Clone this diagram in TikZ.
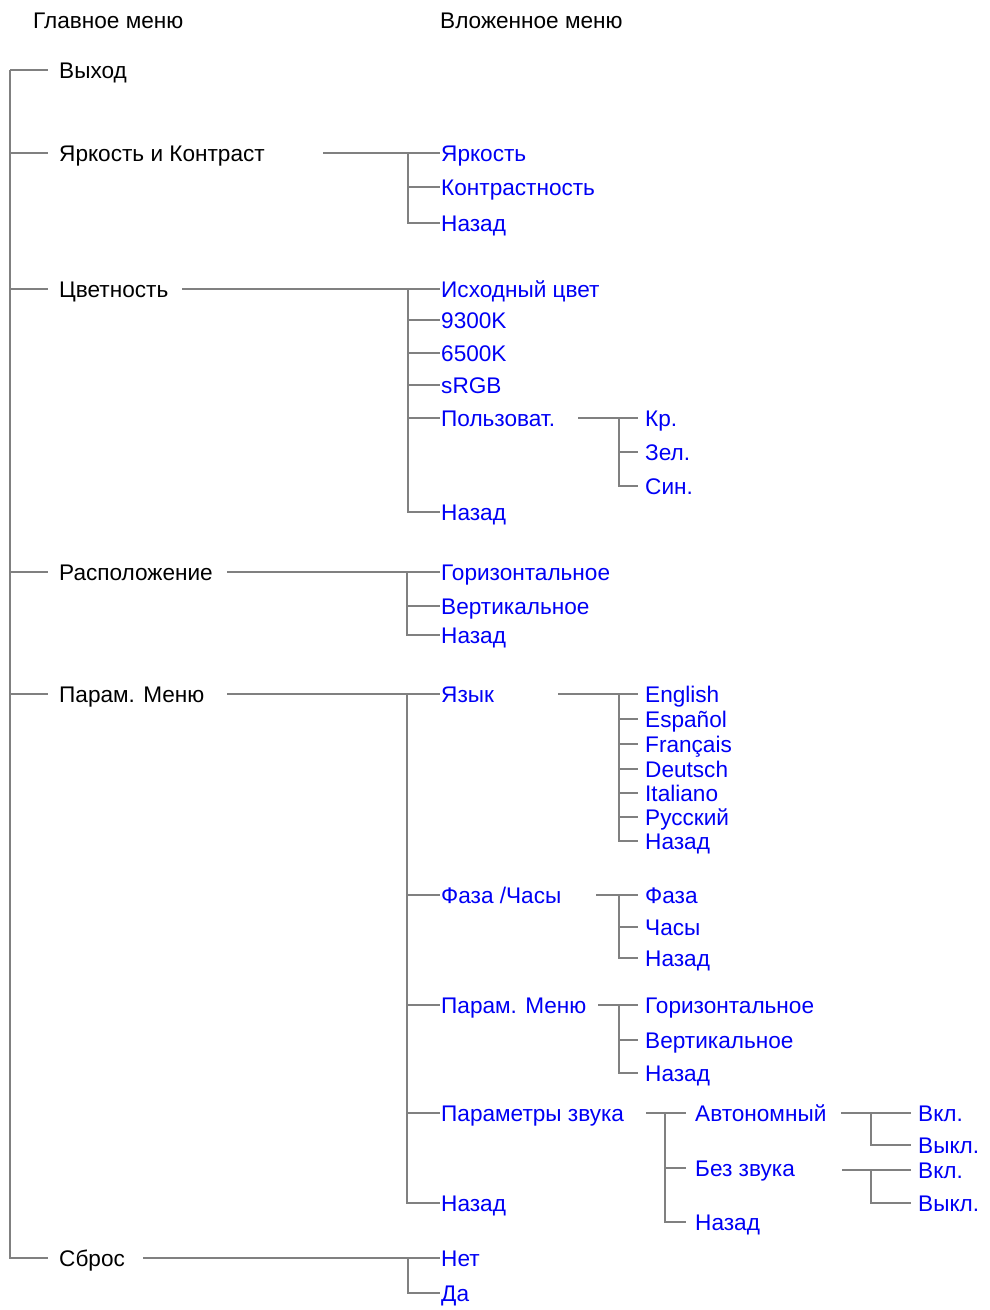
\documentclass[tikz,border=0pt]{standalone}
\usepackage{fontspec}
\setmainfont{Liberation Sans}
\definecolor{refblue}{RGB}{0,0,245}
\definecolor{lngray}{RGB}{128,128,128}
\begin{document}
\begin{tikzpicture}[x=1pt,y=-1pt,
  ln/.style={draw=lngray,line width=1.5pt},
  txt/.style={anchor=west,inner ysep=0pt,inner xsep=0pt,text height=16.3pt,text depth=0pt,
    font=\fontsize{22.6}{26}\selectfont},
  hdr/.style={txt,text=black},
  mainitem/.style={txt,text=black,inner xsep=11pt},
  subA/.style={txt,text=refblue,inner xsep=1pt},
  subB/.style={txt,text=refblue,inner xsep=7pt},
  subC/.style={txt,text=refblue,inner xsep=9pt}
]
\fill[white] (0,0) rectangle (989,1310);
\useasboundingbox (0,0) rectangle (989,1310);

% headers
\node[hdr] (h1) at (33,20) {Главное меню};
\node[hdr] (h2) at (440,20) {Вложенное меню};

% main menu
\node[mainitem] (m1) at (48,70) {Выход};
\node[mainitem] (m2) at (48,153) {Яркость и Контраст};
\node[mainitem] (m3) at (48,289) {Цветность};
\node[mainitem] (m4) at (48,572) {Расположение};
\node[mainitem] (m5) at (48,694) {Парам. Меню};
\node[mainitem] (m6) at (48,1258) {Сброс};
\coordinate (root) at (10,70);
\draw[ln] (root) -- (m1.west);
\foreach \m in {m2,m3,m4,m5,m6} \draw[ln] (root) |- (\m.west);

% Brightness / contrast
\node[subA] (a1) at (440,153) {Яркость};
\node[subA] (a2) at (440,187) {Контрастность};
\node[subA] (a3) at (440,223) {Назад};
\coordinate (s2) at (323,153);
\coordinate (b2) at (408,153);
\draw[ln] (s2) -- (a1.west);
\foreach \c in {a2,a3} \draw[ln] (b2) |- (\c.west);

% Colour
\node[subA] (c1) at (440,289) {Исходный цвет};
\node[subA] (c2) at (440,320) {9300K};
\node[subA] (c3) at (440,353) {6500K};
\node[subA] (c4) at (440,385) {sRGB};
\node[subA] (c5) at (440,418) {Пользоват.};
\node[subA] (c6) at (440,512) {Назад};
\coordinate (s3) at (182,289);
\coordinate (b3) at (408,289);
\draw[ln] (s3) -- (c1.west);
\foreach \c in {c2,c3,c4,c5,c6} \draw[ln] (b3) |- (\c.west);

\node[subB] (u1) at (638,418) {Кр.};
\node[subB] (u2) at (638,452) {Зел.};
\node[subB] (u3) at (638,486) {Син.};
\coordinate (su) at (578,418);
\coordinate (bu) at (619,418);
\draw[ln] (su) -- (u1.west);
\foreach \c in {u2,u3} \draw[ln] (bu) |- (\c.west);

% Position
\node[subA] (p1) at (440,572) {Горизонтальное};
\node[subA] (p2) at (440,606) {Вертикальное};
\node[subA] (p3) at (440,635) {Назад};
\coordinate (s4) at (227,572);
\coordinate (b4) at (407,572);
\draw[ln] (s4) -- (p1.west);
\foreach \c in {p2,p3} \draw[ln] (b4) |- (\c.west);

% Menu settings
\node[subA] (o1) at (440,694) {Язык};
\node[subA] (o2) at (440,895) {Фаза /Часы};
\node[subA] (o3) at (440,1005) {Парам. Меню};
\node[subA] (o4) at (440,1113) {Параметры звука};
\node[subA] (o5) at (440,1203) {Назад};
\coordinate (s5) at (227,694);
\coordinate (b5) at (407,694);
\draw[ln] (s5) -- (o1.west);
\foreach \c in {o2,o3,o4,o5} \draw[ln] (b5) |- (\c.west);

% Language
\node[subB] (l1) at (638,694) {English};
\node[subB] (l2) at (638,719) {Español};
\node[subB] (l3) at (638,744) {Français};
\node[subB] (l4) at (638,769) {Deutsch};
\node[subB] (l5) at (638,793) {Italiano};
\node[subB] (l6) at (638,817) {Русский};
\node[subB] (l7) at (638,841) {Назад};
\coordinate (sl) at (558,694);
\coordinate (bl) at (619,694);
\draw[ln] (sl) -- (l1.west);
\foreach \c in {l2,l3,l4,l5,l6,l7} \draw[ln] (bl) |- (\c.west);

% Phase / clock
\node[subB] (f1) at (638,895) {Фаза};
\node[subB] (f2) at (638,927) {Часы};
\node[subB] (f3) at (638,958) {Назад};
\coordinate (sf) at (596,895);
\coordinate (bf) at (619,895);
\draw[ln] (sf) -- (f1.west);
\foreach \c in {f2,f3} \draw[ln] (bf) |- (\c.west);

% Menu position
\node[subB] (g1) at (638,1005) {Горизонтальное};
\node[subB] (g2) at (638,1040) {Вертикальное};
\node[subB] (g3) at (638,1073) {Назад};
\coordinate (sg) at (598,1005);
\coordinate (bg) at (619,1005);
\draw[ln] (sg) -- (g1.west);
\foreach \c in {g2,g3} \draw[ln] (bg) |- (\c.west);

% Sound
\node[subC] (z1) at (686,1113) {Автономный};
\node[subC] (z2) at (686,1168) {Без звука};
\node[subC] (z3) at (686,1222) {Назад};
\coordinate (sz) at (646,1113);
\coordinate (bz) at (665,1113);
\draw[ln] (sz) -- (z1.west);
\foreach \c in {z2,z3} \draw[ln] (bz) |- (\c.west);

\node[subB] (w1) at (911,1113) {Вкл.};
\node[subB] (w2) at (911,1145) {Выкл.};
\coordinate (sw) at (841,1113);
\coordinate (bw) at (871,1113);
\draw[ln] (sw) -- (w1.west);
\draw[ln] (bw) |- (w2.west);

\node[subB] (v1) at (911,1170) {Вкл.};
\node[subB] (v2) at (911,1203) {Выкл.};
\coordinate (sv) at (842,1170);
\coordinate (bv) at (871,1170);
\draw[ln] (sv) -- (v1.west);
\draw[ln] (bv) |- (v2.west);

% Reset
\node[subA] (r1) at (440,1258) {Нет};
\node[subA] (r2) at (440,1293) {Да};
\coordinate (s6) at (143,1258);
\coordinate (b6) at (408,1258);
\draw[ln] (s6) -- (r1.west);
\draw[ln] (b6) |- (r2.west);
\end{tikzpicture}
\end{document}
